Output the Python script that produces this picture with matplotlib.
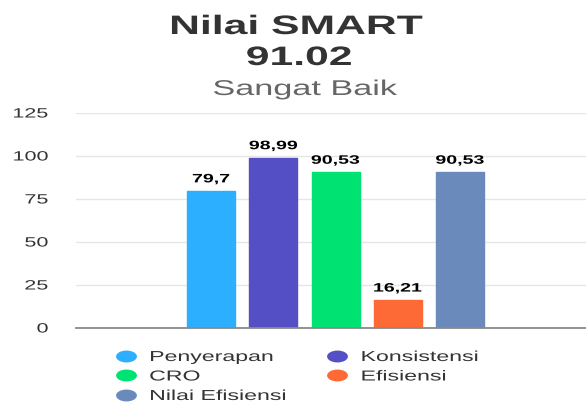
import numpy as np
import matplotlib
matplotlib.use('Agg')
import matplotlib.pyplot as plt
from matplotlib.patheffects import AbstractPathEffect
from matplotlib.transforms import Affine2D
from matplotlib.path import Path
from matplotlib.lines import Line2D

# ---- data ----
series_names = ['Penyerapan', 'Konsistensi', 'CRO', 'Efisiensi', 'Nilai Efisiensi']
series_values = [79.7, 98.99, 90.53, 16.21, 90.53]
value_labels = ['79,7', '98,99', '90,53', '16,21', '90,53']
series_colors = ['#2caffe', '#544fc5', '#00e272', '#fe6a35', '#6b8abc']
y_ticks = [0, 25, 50, 75, 100, 125]
y_tick_labels = ['0', '25', '50', '75', '100', '125']
title_text = 'Nilai SMART'
score_text = '91.02'
subtitle_text = 'Sangat Baik'

W, H, DPI = 586, 405, 100
SX = 1.6  # horizontal stretch of the text in the reference


class HStretch(AbstractPathEffect):
    """Stretch text glyphs horizontally around an anchor."""
    def __init__(self, sx=SX, anchor='center'):
        super().__init__()
        self._sx = sx
        self._anchor = anchor

    def draw_path(self, renderer, gc, tpath, affine, rgbFace=None):
        ext = tpath.get_extents()
        if self._anchor == 'left':
            px = 0.0
        elif self._anchor == 'right':
            px = ext.x1
        else:
            px = 0.5 * (ext.x0 + ext.x1)
        t = Affine2D().translate(-px, 0).scale(self._sx, 1).translate(px, 0) + affine
        renderer.draw_path(gc, tpath, t, rgbFace)


plt.rcParams['font.family'] = ['Liberation Sans', 'DejaVu Sans']

fig = plt.figure(figsize=(W / DPI, H / DPI), dpi=DPI)
fig.patch.set_facecolor('white')
ax = fig.add_axes([76 / W, 1 - 328 / H, (W - 76) / W, (328 - 113) / H])

x = np.arange(len(series_names))
for i in range(len(series_names)):
    bc = ax.bar(x[i], series_values[i], width=0.771, color=series_colors[i],
                edgecolor=series_colors[i], linewidth=1.0, joinstyle='round',
                label=series_names[i], zorder=3)
    texts = ax.bar_label(bc, labels=[value_labels[i]], padding=4, fontsize=8.8,
                         fontweight='bold', color='#000000')
    for t in texts:
        t.set_path_effects([HStretch(anchor='center')])

ax.set_xlim(-2.169, 6.024)
ax.set_ylim(0, 125)
ax.set_xticks([])
ax.set_yticks(y_ticks)
ax.set_yticklabels(y_tick_labels)
ax.tick_params(axis='y', length=0, pad=20, labelsize=9.7, labelcolor='#333333')
for tk in ax.yaxis.get_major_ticks():
    tk.label1.set_path_effects([HStretch(anchor='right')])
ax.yaxis.grid(True, color='#e6e6e6', linewidth=1.0)
ax.set_axisbelow(True)
for s in ['top', 'right', 'left']:
    ax.spines[s].set_visible(False)
ax.spines['bottom'].set_color('#8a8a8a')
ax.spines['bottom'].set_linewidth(1.3)
ax.spines['bottom'].set_zorder(4)

# titles
t1 = fig.text(296 / W, 1 - 34 / H, title_text, ha='center', va='baseline',
              fontsize=19.2, fontweight='bold', color='#333333')
t2 = fig.text(299 / W, 1 - 65 / H, score_text, ha='center', va='baseline',
              fontsize=19.2, fontweight='bold', color='#333333')
t3 = fig.text(305 / W, 1 - 95 / H, subtitle_text, ha='center', va='baseline',
              fontsize=15.4, color='#666666')
for t in (t1, t2, t3):
    t.set_path_effects([HStretch(anchor='center')])

# legend (row-major order as in the reference)
ell = Path.unit_circle().transformed(Affine2D().scale(1.75, 1.0))
order = [0, 2, 4, 1, 3]
handles = [Line2D([], [], linestyle='none', marker=ell, markersize=15,
                  markerfacecolor=series_colors[i], markeredgewidth=0) for i in order]
leg = fig.legend(handles, [series_names[i] for i in order], ncol=2, loc='upper left',
                 bbox_to_anchor=(118.8 / W, 1 - 350 / H), frameon=False, fontsize=10.4,
                 handlelength=1.0, handletextpad=1.1, columnspacing=6.6,
                 labelspacing=0.38, borderpad=0, borderaxespad=0, labelcolor='#333333')
for t in leg.get_texts():
    t.set_path_effects([HStretch(anchor='left')])

fig.savefig('out.png', dpi=DPI)
